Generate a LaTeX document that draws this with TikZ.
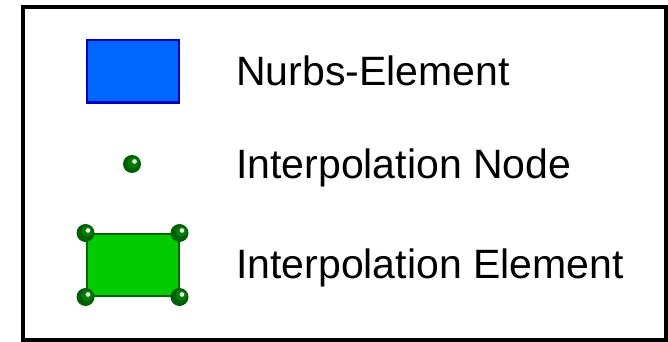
\documentclass[tikz,border=0pt]{standalone}
\usepackage{fontspec}
\setmainfont{Liberation Sans}
\definecolor{nurbsfill}{HTML}{0066FF}
\definecolor{nurbsline}{HTML}{0000CC}
\definecolor{elemfill}{HTML}{00CC00}
\definecolor{elemline}{HTML}{006600}
\definecolor{dotdark}{HTML}{005F00}
\definecolor{dotmid}{HTML}{008000}
\tikzset{
  label text/.style={anchor=base west, inner sep=0pt, font=\fontsize{41}{49}\selectfont},
  ipnode/.pic={
    \fill[dotdark] (0,0) circle (9);
    \fill[dotmid] (1.5,-1.5) circle (5.5);
    \fill[white] (2.5,-2.5) circle (2.3);
  }
}
\begin{document}
\begin{tikzpicture}[x=1pt,y=-1pt]
\useasboundingbox (0,0) rectangle (668,342);
\draw[line width=4pt] (23,7) rectangle (666,340);
% Nurbs element
\node[draw=nurbsline, fill=nurbsfill, line width=2pt, minimum width=92pt, minimum height=62pt, inner sep=0pt] (nurbs) at (132.5,71.5) {};
\node[label text] (t1) at (236,85) {Nurbs-Element};
% Interpolation node
\coordinate (ipn) at (132,164);
\pic at (ipn) {ipnode};
\node[label text] (t2) at (236,178) {Interpolation Node};
% Interpolation element
\node[draw=elemline, fill=elemfill, line width=2pt, minimum width=92pt, minimum height=62pt, inner sep=0pt] (elem) at (132.5,265) {};
\pic at (elem.north west) {ipnode};
\pic at (elem.north east) {ipnode};
\pic at (elem.south west) {ipnode};
\pic at (elem.south east) {ipnode};
\node[label text] (t3) at (236,278) {Interpolation Element};
\end{tikzpicture}
\end{document}
